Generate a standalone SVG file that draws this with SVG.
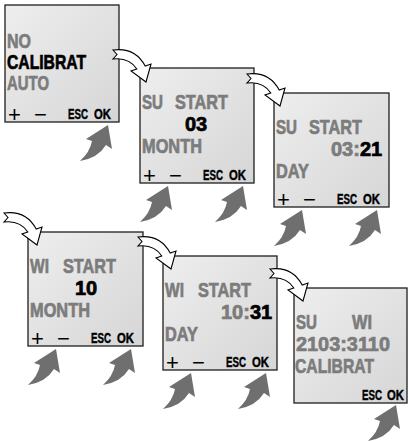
<svg xmlns="http://www.w3.org/2000/svg" width="409" height="441" viewBox="0 0 409 441">
<style>
.scr{fill:url(#lcd);stroke:#1e1e1e;stroke-width:1.3}
.t{font-family:"Liberation Sans",Arial,sans-serif;font-weight:bold;font-size:21px;stroke-width:0.7}
.d{font-family:"Liberation Sans",Arial,sans-serif;font-weight:bold;font-size:20px;stroke-width:0.7}
.g{fill:#7c7c7c;stroke:#7c7c7c}
.k{fill:#000;stroke:#000}
.b{font-family:"Liberation Sans",Arial,sans-serif;font-weight:bold;font-size:12px;fill:#000;stroke:#000;stroke-width:0.35}
.pm{font-family:"Liberation Sans",Arial,sans-serif;font-size:22px;fill:#000}
.wa{fill:#fff;stroke:#000;stroke-width:1.1;stroke-linejoin:miter}
.ga{fill:#6f6f6f}
</style>
<defs>
<linearGradient id="lcd" x1="0" y1="0" x2="1" y2="1">
<stop offset="0" stop-color="#eeeeee"/>
<stop offset="1" stop-color="#d6d6d6"/>
</linearGradient>
<path id="warrow" d="M0,-5 Q22,-8 32.2,11 L38,9 L33,27 L18,16 L23.8,14 Q16,2 0,4 L4,-0.5 Z"/>
<path id="garrow" d="M0,0 L4,24 L-2,20 Q-10,33 -28,36 Q-18,27 -16,16 L-22,14 Z"/>
</defs>

<g id="screen1">
<rect class="scr" x="5" y="5" width="114" height="117"/>
<text class="t g" x="7" y="48" textLength="24" lengthAdjust="spacingAndGlyphs">NO</text>
<text class="t k" x="7" y="69" textLength="79" lengthAdjust="spacingAndGlyphs">CALIBRAT</text>
<text class="t g" x="7" y="90" textLength="42" lengthAdjust="spacingAndGlyphs">AUTO</text>
<text class="pm" x="8" y="122">+</text>
<text class="pm" x="34" y="122">−</text>
<text class="b" transform="translate(0,119) scale(1,1.25)"><tspan x="68" textLength="20" lengthAdjust="spacingAndGlyphs">ESC</tspan> <tspan x="94" textLength="17" lengthAdjust="spacingAndGlyphs">OK</tspan></text>
</g>

<g id="screen2">
<rect class="scr" x="140" y="68" width="114" height="115"/>
<text class="t g" y="109"><tspan x="142" textLength="21" lengthAdjust="spacingAndGlyphs">SU</tspan> <tspan x="175" textLength="53" lengthAdjust="spacingAndGlyphs">START</tspan></text>
<text class="d k" x="185" y="131">03</text>
<text class="t g" x="142" y="153" textLength="60" lengthAdjust="spacingAndGlyphs">MONTH</text>
<text class="pm" x="143" y="183">+</text>
<text class="pm" x="169" y="183">−</text>
<text class="b" transform="translate(0,180) scale(1,1.25)"><tspan x="203" textLength="20" lengthAdjust="spacingAndGlyphs">ESC</tspan> <tspan x="229" textLength="17" lengthAdjust="spacingAndGlyphs">OK</tspan></text>
</g>

<g id="screen3">
<rect class="scr" x="274" y="93" width="115" height="114"/>
<text class="t g" y="134"><tspan x="276" textLength="21" lengthAdjust="spacingAndGlyphs">SU</tspan> <tspan x="309" textLength="53" lengthAdjust="spacingAndGlyphs">START</tspan></text>
<text class="d g" x="331" y="156">03:</text>
<text class="d k" x="360" y="156">21</text>
<text class="t g" x="276" y="178" textLength="33" lengthAdjust="spacingAndGlyphs">DAY</text>
<text class="pm" x="277" y="207">+</text>
<text class="pm" x="303" y="207">−</text>
<text class="b" transform="translate(0,204) scale(1,1.25)"><tspan x="337" textLength="20" lengthAdjust="spacingAndGlyphs">ESC</tspan> <tspan x="363" textLength="17" lengthAdjust="spacingAndGlyphs">OK</tspan></text>
</g>

<g id="screen4">
<rect class="scr" x="28" y="232" width="115" height="114"/>
<text class="t g" y="273"><tspan x="30" textLength="19" lengthAdjust="spacingAndGlyphs">WI</tspan> <tspan x="63" textLength="53" lengthAdjust="spacingAndGlyphs">START</tspan></text>
<text class="d k" x="75" y="295">10</text>
<text class="t g" x="30" y="317" textLength="60" lengthAdjust="spacingAndGlyphs">MONTH</text>
<text class="pm" x="31" y="346">+</text>
<text class="pm" x="57" y="346">−</text>
<text class="b" transform="translate(0,343) scale(1,1.25)"><tspan x="91" textLength="20" lengthAdjust="spacingAndGlyphs">ESC</tspan> <tspan x="117" textLength="17" lengthAdjust="spacingAndGlyphs">OK</tspan></text>
</g>

<g id="screen5">
<rect class="scr" x="163" y="256" width="114" height="114"/>
<text class="t g" y="297"><tspan x="165" textLength="19" lengthAdjust="spacingAndGlyphs">WI</tspan> <tspan x="198" textLength="53" lengthAdjust="spacingAndGlyphs">START</tspan></text>
<text class="d g" x="221" y="319">10:</text>
<text class="d k" x="250" y="319">31</text>
<text class="t g" x="165" y="341" textLength="33" lengthAdjust="spacingAndGlyphs">DAY</text>
<text class="pm" x="166" y="370">+</text>
<text class="pm" x="192" y="370">−</text>
<text class="b" transform="translate(0,367) scale(1,1.25)"><tspan x="226" textLength="20" lengthAdjust="spacingAndGlyphs">ESC</tspan> <tspan x="252" textLength="17" lengthAdjust="spacingAndGlyphs">OK</tspan></text>
</g>

<g id="screen6">
<rect class="scr" x="294" y="288" width="113" height="115"/>
<text class="t g" y="329"><tspan x="296" textLength="21" lengthAdjust="spacingAndGlyphs">SU</tspan> <tspan x="352" textLength="20" lengthAdjust="spacingAndGlyphs">WI</tspan></text>
<text class="t g" x="296" y="351" textLength="94" lengthAdjust="spacingAndGlyphs">2103:3110</text>
<text class="t g" x="295" y="373" textLength="79" lengthAdjust="spacingAndGlyphs">CALIBRAT</text>
<text class="b" transform="translate(0,400) scale(1,1.25)"><tspan x="362" textLength="20" lengthAdjust="spacingAndGlyphs">ESC</tspan> <tspan x="387" textLength="17" lengthAdjust="spacingAndGlyphs">OK</tspan></text>
</g>

<g id="connectors">
<use href="#warrow" class="wa" transform="translate(113,55)"/>
<use href="#warrow" class="wa" transform="translate(247,79)"/>
<use href="#warrow" class="wa" transform="translate(4,218)"/>
<use href="#warrow" class="wa" transform="translate(138,242)"/>
<use href="#warrow" class="wa" transform="translate(270,274)"/>
<use href="#garrow" class="ga" transform="translate(108,125)"/>
<use href="#garrow" class="ga" transform="translate(168,186)"/>
<use href="#garrow" class="ga" transform="translate(243,186)"/>
<use href="#garrow" class="ga" transform="translate(302,210)"/>
<use href="#garrow" class="ga" transform="translate(377,210)"/>
<use href="#garrow" class="ga" transform="translate(56,349)"/>
<use href="#garrow" class="ga" transform="translate(131,349)"/>
<use href="#garrow" class="ga" transform="translate(191,373)"/>
<use href="#garrow" class="ga" transform="translate(266,373)"/>
<use href="#garrow" class="ga" transform="translate(396,405)"/>
</g>
</svg>
